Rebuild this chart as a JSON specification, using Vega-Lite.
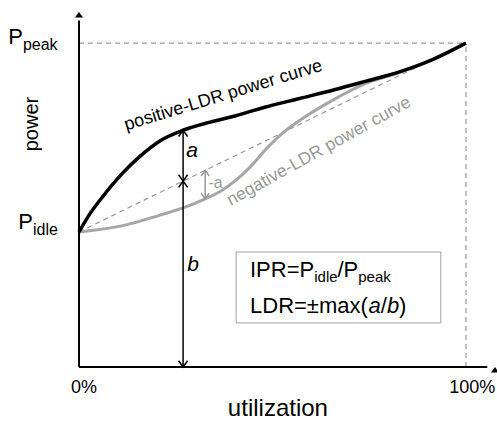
{
  "$schema": "https://vega.github.io/schema/vega-lite/v6.json",
  "width": 416,
  "height": 355,
  "autosize": {"type": "none"},
  "padding": {"left": 79, "top": 12, "right": 2, "bottom": 54},
  "background": "white",
  "config": {"view": {"stroke": null}, "text": {"font": "Liberation Sans"}},
  "encoding": {
    "x": {"field": "x", "type": "quantitative", "scale": {"domain": [0, 107.5], "nice": false, "zero": false}, "axis": null},
    "y": {"field": "y", "type": "quantitative", "scale": {"domain": [0, 109.6], "nice": false, "zero": false}, "axis": null}
  },
  "layer": [
    {
      "data": {"values": [
        {"x": 0, "y": 100, "x2": 100, "y2": 100},
        {"x": 100, "y": 0, "x2": 100, "y2": 100},
        {"x": 0, "y": 41.7, "x2": 100, "y2": 100}
      ]},
      "mark": {"type": "rule", "color": "#999999", "strokeWidth": 1.2, "strokeDash": [5, 4]},
      "encoding": {"x2": {"field": "x2"}, "y2": {"field": "y2"}}
    },
    {
      "data": {"values": [
        {"x": 0, "y": 41.7}, {"x": 11.9, "y": 43.8}, {"x": 20.9, "y": 46.9}, {"x": 26.9, "y": 49.1},
        {"x": 32.6, "y": 51.9}, {"x": 37, "y": 54.6}, {"x": 40.5, "y": 57.6}, {"x": 44.2, "y": 61.7},
        {"x": 48.6, "y": 67.6}, {"x": 52.7, "y": 72.3}, {"x": 57.1, "y": 76.2}, {"x": 65.6, "y": 82.4},
        {"x": 74.4, "y": 87.7}, {"x": 82.9, "y": 91.0}, {"x": 86.3, "y": 92.6}
      ]},
      "mark": {"type": "line", "color": "#a6a6a6", "strokeWidth": 3, "interpolate": "monotone"}
    },
    {
      "data": {"values": [
        {"x": 0, "y": 41.7}, {"x": 2.6, "y": 46.9}, {"x": 5.4, "y": 51.5}, {"x": 10.6, "y": 59.0},
        {"x": 15.8, "y": 65.1}, {"x": 20.9, "y": 69.8}, {"x": 26.9, "y": 73.1}, {"x": 33.9, "y": 75.6},
        {"x": 40.3, "y": 77.5}, {"x": 48, "y": 80.2}, {"x": 57, "y": 82.9}, {"x": 66, "y": 85.6},
        {"x": 74, "y": 88.2}, {"x": 83, "y": 91.2}, {"x": 91.5, "y": 95.0}, {"x": 100, "y": 100}
      ]},
      "mark": {"type": "line", "color": "black", "strokeWidth": 3.5, "interpolate": "monotone"}
    },
    {
      "data": {"values": [{"x": 26.9, "y": 73.1, "x2": 26.9, "y2": 0}]},
      "mark": {"type": "rule", "color": "black", "strokeWidth": 1.5},
      "encoding": {"x2": {"field": "x2"}, "y2": {"field": "y2"}}
    },
    {
      "data": {"values": [{"x": 32.6, "y": 60.7, "x2": 32.6, "y2": 51.9}]},
      "mark": {"type": "rule", "color": "#999999", "strokeWidth": 1.5},
      "encoding": {"x2": {"field": "x2"}, "y2": {"field": "y2"}}
    },
    {
      "data": {"values": [
        {"x": 26.9, "y": 73.1, "d": "up"}, {"x": 26.9, "y": 57.4, "d": "down"},
        {"x": 26.9, "y": 57.4, "d": "up"}, {"x": 26.9, "y": 0, "d": "down"}
      ]},
      "mark": {"type": "point", "filled": false, "color": "black", "strokeWidth": 1.5, "size": 81, "opacity": 1},
      "encoding": {"shape": {"field": "d", "type": "nominal", "scale": {"domain": ["up", "down"], "range": ["M-1,1.4L0,0L1,1.4", "M-1,-1.4L0,0L1,-1.4"]}, "legend": null}}
    },
    {
      "data": {"values": [
        {"x": 32.6, "y": 60.7, "d": "up"}, {"x": 32.6, "y": 51.9, "d": "down"}
      ]},
      "mark": {"type": "point", "filled": false, "color": "#999999", "strokeWidth": 1.5, "size": 64, "opacity": 1},
      "encoding": {"shape": {"field": "d", "type": "nominal", "scale": {"domain": ["up", "down"], "range": ["M-1,1.4L0,0L1,1.4", "M-1,-1.4L0,0L1,-1.4"]}, "legend": null}}
    },
    {
      "data": {"values": [
        {"x": 0, "y": 0, "x2": 0, "y2": 107},
        {"x": 0, "y": 0, "x2": 105.5, "y2": 0}
      ]},
      "mark": {"type": "rule", "color": "black", "strokeWidth": 2},
      "encoding": {"x2": {"field": "x2"}, "y2": {"field": "y2"}}
    },
    {
      "data": {"values": [
        {"x": 0, "y": 109.6, "d": "up"}, {"x": 107.5, "y": 0, "d": "right"}
      ]},
      "mark": {"type": "point", "filled": true, "color": "black", "size": 64, "opacity": 1},
      "encoding": {"shape": {"field": "d", "type": "nominal", "scale": {"domain": ["up", "right"], "range": ["M0,0L-1,2.4L1,2.4Z", "M0,0L-2.4,-1L-2.4,1Z"]}, "legend": null}}
    },
    {
      "data": {"values": [{"x": -14.5, "y": 99.7, "t": "P"}, {"x": -11.9, "y": 42.6, "t": "P"}]},
      "mark": {"type": "text", "fontSize": 22, "align": "right", "baseline": "alphabetic", "color": "black"},
      "encoding": {"text": {"field": "t"}}
    },
    {
      "data": {"values": [{"x": -14.5, "y": 97.8, "t": "peak"}, {"x": -11.9, "y": 40.7, "t": "idle"}]},
      "mark": {"type": "text", "fontSize": 16, "align": "left", "baseline": "alphabetic", "color": "black"},
      "encoding": {"text": {"field": "t"}}
    },
    {
      "data": {"values": [{"x": 1.3, "y": -8.0, "t": "0%"}, {"x": 101.6, "y": -8.0, "t": "100%"}]},
      "mark": {"type": "text", "fontSize": 18, "align": "center", "baseline": "alphabetic", "color": "black"},
      "encoding": {"text": {"field": "t"}}
    },
    {
      "data": {"values": [{"x": -12.1, "y": 75, "t": "power"}]},
      "mark": {"type": "text", "fontSize": 20, "align": "center", "baseline": "middle", "angle": -90, "color": "black"},
      "encoding": {"text": {"field": "t"}}
    },
    {
      "data": {"values": [{"x": 51.4, "y": -15.0, "t": "utilization"}]},
      "mark": {"type": "text", "fontSize": 24, "align": "center", "baseline": "alphabetic", "color": "black"},
      "encoding": {"text": {"field": "t"}}
    },
    {
      "data": {"values": [{"x": 37.3, "y": 83.8, "t": "positive-LDR power curve"}]},
      "mark": {"type": "text", "fontSize": 18, "align": "center", "baseline": "middle", "angle": -17, "color": "black"},
      "encoding": {"text": {"field": "t"}}
    },
    {
      "data": {"values": [{"x": 62.0, "y": 66.6, "t": "negative-LDR power curve"}]},
      "mark": {"type": "text", "fontSize": 17.5, "align": "center", "baseline": "middle", "angle": -29, "color": "#999999"},
      "encoding": {"text": {"field": "t"}}
    },
    {
      "data": {"values": [{"x": 29.2, "y": 66.7, "t": "a"}, {"x": 29.5, "y": 31.5, "t": "b"}]},
      "mark": {"type": "text", "fontSize": 21, "fontStyle": "italic", "align": "center", "baseline": "middle", "color": "black"},
      "encoding": {"text": {"field": "t"}}
    },
    {
      "data": {"values": [{"x": 35.3, "y": 56.8, "t": "-a"}]},
      "mark": {"type": "text", "fontSize": 16, "align": "center", "baseline": "middle", "color": "#999999"},
      "encoding": {"text": {"field": "t"}}
    },
    {
      "data": {"values": [{"x": 40.6, "y": 35.5, "x2": 93.5, "y2": 13.6}]},
      "mark": {"type": "rect", "fill": "white", "stroke": "#a0a0a0", "strokeWidth": 1},
      "encoding": {"x2": {"field": "x2"}, "y2": {"field": "y2"}}
    },
    {
      "data": {"values": [
        {"x": 44.19, "y": 27.8, "t": "IPR=P"}, {"x": 66.8, "y": 27.8, "t": "/P"},
        {"x": 44.19, "y": 16.7, "t": "LDR=±max("}, {"x": 77.98, "y": 16.7, "t": "/"}, {"x": 82.69, "y": 16.7, "t": ")"}
      ]},
      "mark": {"type": "text", "fontSize": 22, "align": "left", "baseline": "alphabetic", "color": "black"},
      "encoding": {"text": {"field": "t"}}
    },
    {
      "data": {"values": [{"x": 60.78, "y": 26.2, "t": "idle"}, {"x": 72.17, "y": 26.2, "t": "peak"}]},
      "mark": {"type": "text", "fontSize": 15, "align": "left", "baseline": "alphabetic", "color": "black"},
      "encoding": {"text": {"field": "t"}}
    },
    {
      "data": {"values": [{"x": 74.83, "y": 16.7, "t": "a"}, {"x": 79.56, "y": 16.7, "t": "b"}]},
      "mark": {"type": "text", "fontSize": 22, "fontStyle": "italic", "align": "left", "baseline": "alphabetic", "color": "black"},
      "encoding": {"text": {"field": "t"}}
    }
  ]
}
